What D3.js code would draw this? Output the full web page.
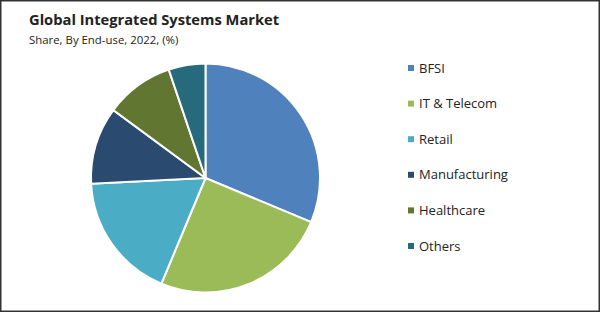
<!DOCTYPE html>
<html>
<head>
<meta charset="utf-8">
<script src="https://cdn.jsdelivr.net/npm/d3@7"></script>
<style>
  body { margin: 0; background: #fff; }
  text { font-family: "Open Sans", "Noto Sans", sans-serif; }
</style>
</head>
<body>
<div id="vis"></div>
<script>
var width = 600,
    height = 312;

// data
var categories = ["BFSI", "IT & Telecom", "Retail", "Manufacturing", "Healthcare", "Others"];
var shares = [31.3, 25.0, 17.9, 10.9, 9.7, 5.2];
var colors = ["#4f81bd", "#9bbb59", "#4bacc6", "#2b4a70", "#617630", "#266a7b"];

var svg = d3.select("#vis").append("svg")
    .attr("width", width)
    .attr("height", height);

// frame
svg.append("rect")
    .attr("x", 0.75).attr("y", 0.75)
    .attr("width", width - 1.5).attr("height", height - 1.5)
    .attr("fill", "none")
    .attr("stroke", "#333")
    .attr("stroke-width", 1.5);

svg.append("text")
    .attr("x", 29).attr("y", 25)
    .attr("font-size", 14.7)
    .attr("font-weight", "bold")
    .attr("fill", "#222")
    .text("Global Integrated Systems Market");

svg.append("text")
    .attr("x", 29).attr("y", 44)
    .attr("font-size", 11.4)
    .attr("fill", "#222")
    .text("Share, By End-use, 2022, (%)");

//--------PIE--------//
var pie = d3.pie().sort(null).value(function(d) { return d; });
var arc = d3.arc().innerRadius(0).outerRadius(114.5);

var g = svg.append("g")
    .attr("transform", "translate(" + 205.5 + "," + 178 + ")");

g.selectAll("path")
    .data(pie(shares))
    .enter()
    .append("path")
    .attr("d", arc)
    .attr("fill", function(d, i) { return colors[i]; })
    .attr("stroke", "#fff")
    .attr("stroke-width", 2);

//--------LEGEND--------//
var y = d3.scalePoint()
    .domain(categories)
    .range([68, 246]);

var legend = svg.append("g").selectAll("g")
    .data(categories)
    .enter()
    .append("g")
    .attr("transform", function(d) { return "translate(408," + y(d) + ")"; });

legend.append("rect")
    .attr("x", 0).attr("y", -3)
    .attr("width", 6).attr("height", 6)
    .attr("fill", function(d, i) { return colors[i]; });

legend.append("text")
    .attr("x", 11).attr("y", 0)
    .attr("dy", "0.35em")
    .attr("font-size", 13)
    .attr("fill", "#222")
    .text(function(d) { return d; });
</script>
</body>
</html>
